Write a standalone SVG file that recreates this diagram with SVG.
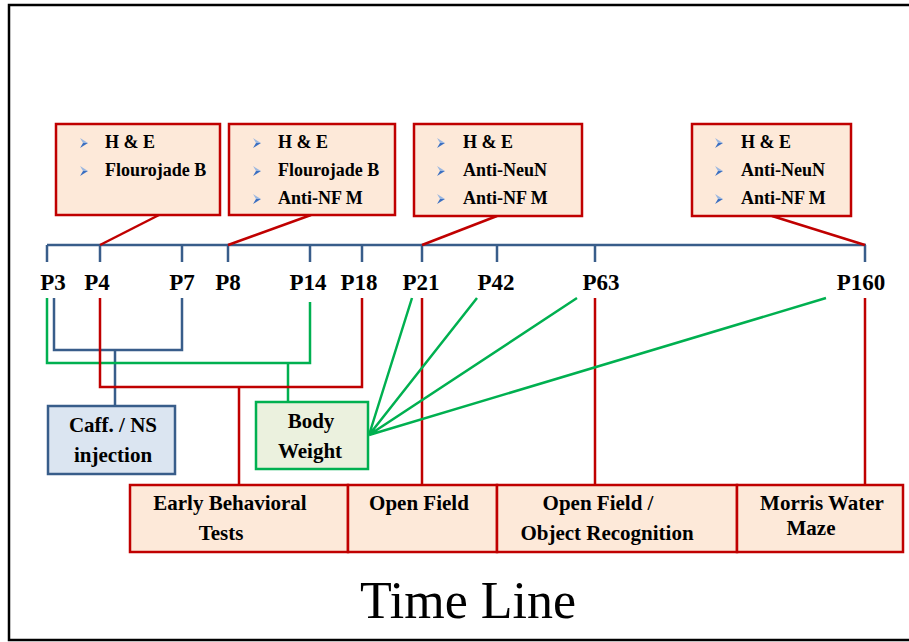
<svg xmlns="http://www.w3.org/2000/svg" width="909" height="642" viewBox="0 0 909 642">
<defs>
<style>
.frame{fill:none;stroke:#000;stroke-width:2.5}
.rbox{fill:#fde9d9;stroke:#c00000;stroke-width:2.5}
.bbox{fill:#dbe5f1;stroke:#385d8a;stroke-width:2.5}
.gbox{fill:#ebf1de;stroke:#00b050;stroke-width:2.5}
.bl{fill:none;stroke:#385d8a;stroke-width:2.5}
.rl{fill:none;stroke:#c00000;stroke-width:2.5}
.gl{fill:none;stroke:#00b050;stroke-width:2.5}
text{font-family:"Liberation Serif","Times New Roman",serif;fill:#000}
.b{font-weight:bold;font-size:18px}
.p{font-weight:bold;font-size:23px;text-anchor:middle}
.m{font-weight:bold;font-size:21px;text-anchor:middle}
.t{font-size:52px;text-anchor:middle}
</style>
<g id="arw">
<polygon points="0,-5 8,0 3,0" fill="#9bb7e0"/>
<polygon points="0,5 8,0 3,0" fill="#3b6fc1"/>
</g>
</defs>
<rect class="frame" x="9" y="5" width="920" height="635"/>

<g id="connectors">
<line class="bl" x1="47" y1="245" x2="866" y2="245"/>
<path class="bl" d="M47 245V262M100 245V262M182 245V262M228 245V262M310 245V262M362 245V262M422 245V262M497 245V262M595 245V262M865 245V262"/>
<line class="rl" x1="159" y1="215" x2="100" y2="245"/>
<line class="rl" x1="311" y1="215" x2="228" y2="245"/>
<line class="rl" x1="497" y1="216" x2="422" y2="245"/>
<line class="rl" x1="772" y1="216" x2="865" y2="245"/>
<path class="bl" d="M54 298V350H182V298M115 350V406"/>
<path class="gl" d="M47 298V363H310V302M288 363V402"/>
<path class="rl" d="M100 298V387H362V298M239 387V485"/>
<path class="rl" d="M422 298V485M595 298V485M865 298V485"/>
<path class="gl" d="M369 435L412 298M369 435L477 298M369 435L577 298M369 435L826 298"/>
</g>

<g id="box-p4">
<rect class="rbox" x="56" y="124" width="164" height="91"/>
<use href="#arw" x="80" y="143"/><use href="#arw" x="80" y="171"/>
<text class="b" x="105" y="148">H &amp; E</text>
<text class="b" x="105" y="176">Flourojade B</text>
</g>
<g id="box-p8">
<rect class="rbox" x="229" y="124" width="166" height="91"/>
<use href="#arw" x="253" y="143"/><use href="#arw" x="253" y="171"/><use href="#arw" x="253" y="199"/>
<text class="b" x="278" y="148">H &amp; E</text>
<text class="b" x="278" y="176">Flourojade B</text>
<text class="b" x="278" y="204">Anti-NF M</text>
</g>
<g id="box-p21">
<rect class="rbox" x="414" y="124" width="168" height="92"/>
<use href="#arw" x="437" y="143"/><use href="#arw" x="437" y="171"/><use href="#arw" x="437" y="199"/>
<text class="b" x="463" y="148">H &amp; E</text>
<text class="b" x="463" y="176">Anti-NeuN</text>
<text class="b" x="463" y="204">Anti-NF M</text>
</g>
<g id="box-p160">
<rect class="rbox" x="692" y="124" width="159" height="92"/>
<use href="#arw" x="715" y="143"/><use href="#arw" x="715" y="171"/><use href="#arw" x="715" y="199"/>
<text class="b" x="741" y="148">H &amp; E</text>
<text class="b" x="741" y="176">Anti-NeuN</text>
<text class="b" x="741" y="204">Anti-NF M</text>
</g>

<g id="labels">
<text class="p" x="53" y="290">P3</text>
<text class="p" x="97" y="290">P4</text>
<text class="p" x="182" y="290">P7</text>
<text class="p" x="228" y="290">P8</text>
<text class="p" x="308" y="290">P14</text>
<text class="p" x="359" y="290">P18</text>
<text class="p" x="421" y="290">P21</text>
<text class="p" x="496" y="290">P42</text>
<text class="p" x="601" y="290">P63</text>
<text class="p" x="861" y="290">P160</text>
</g>

<g id="caff">
<rect class="bbox" x="48" y="406" width="127" height="68"/>
<text class="m" x="113" y="432">Caff. / NS</text>
<text class="m" x="113" y="462">injection</text>
</g>
<g id="body-weight">
<rect class="gbox" x="256" y="402" width="112" height="67"/>
<text class="m" x="311" y="428">Body</text>
<text class="m" x="310" y="458">Weight</text>
</g>

<g id="early">
<rect class="rbox" x="130" y="485" width="218" height="67"/>
<text class="m" x="230" y="510">Early Behavioral</text>
<text class="m" x="221" y="540">Tests</text>
</g>
<g id="open-field">
<rect class="rbox" x="348" y="485" width="149" height="67"/>
<text class="m" x="419" y="510">Open Field</text>
</g>
<g id="open-field-or">
<rect class="rbox" x="497" y="485" width="240" height="67"/>
<text class="m" x="598" y="510">Open Field /</text>
<text class="m" x="607" y="540">Object Recognition</text>
</g>
<g id="morris">
<rect class="rbox" x="737" y="485" width="166" height="67"/>
<text class="m" x="822" y="510">Morris Water</text>
<text class="m" x="811" y="535">Maze</text>
</g>

<text class="t" x="468" y="618">Time Line</text>
</svg>
